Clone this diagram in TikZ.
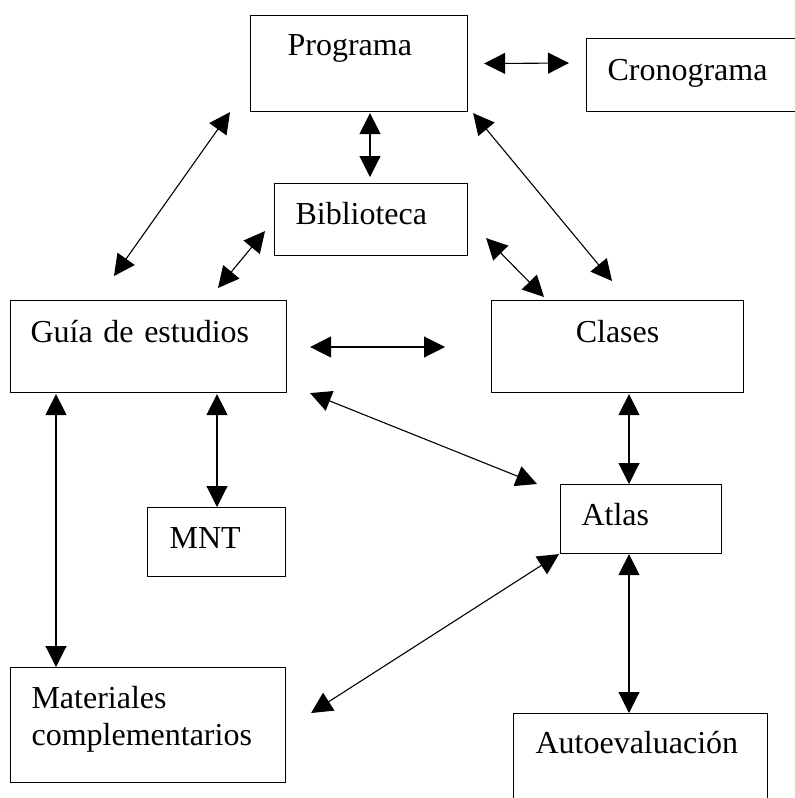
\documentclass[tikz,border=0pt]{standalone}
\usepackage{fontspec}
\setmainfont{Liberation Serif}
\usetikzlibrary{arrows.meta}

\begin{document}
\begin{tikzpicture}
    [
    x=1pt, y=-1pt,
    box/.style={draw, line width=1.1pt, anchor=north west, inner ysep=0pt, align=left,
      font=\fontsize{32}{37}\selectfont},
    link/.style={line width=1.1pt, {Triangle[length=21pt,width=21pt]}-{Triangle[length=21pt,width=21pt]}}
    ]
    \useasboundingbox (0,0) rectangle (795,798);
    \node (prog) at (250,15) [box, inner xsep=37pt, text width=143pt, text height=40pt, text depth=56pt] {Programa};
    \node (crono) at (586,38) [box, inner xsep=21pt, text width=170pt, text height=42pt, text depth=31pt] {Cronograma};
    \node (bib) at (274,183) [box, inner xsep=21pt, text width=151pt, text height=41pt, text depth=31pt] {Biblioteca};
    \node (guia) at (10,300) [box, inner xsep=20pt, text width=236pt, text height=42pt, text depth=50pt] {Guía de estudios};
    \node (clases) at (491,300) [box, align=center, inner xsep=20pt, text width=212pt, text height=42pt, text depth=50pt] {Clases};
    \node (atlas) at (560,484) [box, inner xsep=21pt, text width=119pt, text height=41pt, text depth=28pt] {Atlas};
    \node (mnt) at (147,507) [box, inner xsep=22pt, text width=94pt, text height=41pt, text depth=28pt] {MNT};
    \node (mat) at (10,667) [box, inner xsep=21pt, text width=233pt, text height=41pt, text depth=74pt] {Materiales\\complementarios};
    \node (auto) at (513,713) [box, inner xsep=22pt, text width=210pt, text height=40pt, text depth=60pt] {Autoevaluación};

    \draw [link] ([xshift=16]prog.east) to ([shift={(-17,25)}]crono.north west);
    \draw [link] ([shift={(120,1)}]prog.south west) to ([shift={(96,-6)}]bib.north west);
    \draw [link] ([shift={(104,-24)}]guia.north west) to ([shift={(-20,0)}]prog.south west);
    \draw [link] ([shift={(208,-12)}]guia.north west) to ([shift={(-9,-25)}]bib.south west);
    \draw [link] ([shift={(5,1)}]prog.south east) to ([shift={(121,-19)}]clases.north west);
    \draw [link] ([shift={(18,-18)}]bib.south east) to ([shift={(53,-3)}]clases.north west);
    \draw [link] ([shift={(23,47)}]guia.north east) to ([shift={(-46,47)}]clases.north west);
    \draw [link] ([shift={(23,0)}]guia.south east) to ([shift={(-23,0)}]atlas.north west);
    \draw [link] ([shift={(138,1)}]clases.south west) to ([shift={(69,0)}]atlas.north west);
    \draw [link] ([shift={(207,1)}]guia.south west) to ([shift={(70,0)}]mnt.north west);
    \draw [link] ([shift={(46,1)}]guia.south west) to ([shift={(46,0)}]mat.north west);
    \draw [link] ([shift={(25,46)}]mat.north east) to ([shift={(-1,0)}]atlas.south west);
    \draw [link] ([shift={(69,0)}]atlas.south west) to ([shift={(116,0)}]auto.north west);
  \end{tikzpicture}
\end{document}
